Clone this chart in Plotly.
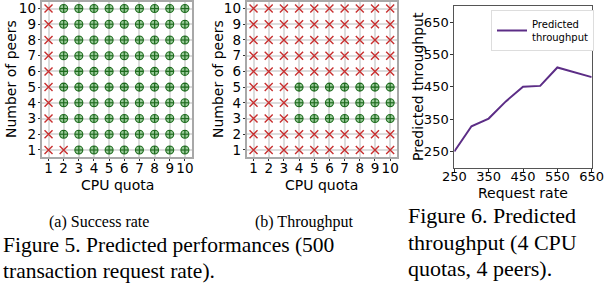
import plotly.graph_objects as go

# ---------------- data ----------------
cpu_quota = [1, 2, 3, 4, 5, 6, 7, 8, 9, 10]
num_peers = [1, 2, 3, 4, 5, 6, 7, 8, 9, 10]

# rows = number of peers (1..10), cols = CPU quota (1..10); 1 = success, 0 = fail
success_rate_ok = [
    [0, 0, 1, 1, 1, 1, 1, 1, 1, 1],  # peers 1
    [0, 1, 1, 1, 1, 1, 1, 1, 1, 1],  # peers 2
    [0, 1, 1, 1, 1, 1, 1, 1, 1, 1],  # peers 3
    [0, 1, 1, 1, 1, 1, 1, 1, 1, 1],  # peers 4
    [0, 1, 1, 1, 1, 1, 1, 1, 1, 1],  # peers 5
    [0, 1, 1, 1, 1, 1, 1, 1, 1, 1],  # peers 6
    [0, 1, 1, 1, 1, 1, 1, 1, 1, 1],  # peers 7
    [0, 1, 1, 1, 1, 1, 1, 1, 1, 1],  # peers 8
    [0, 1, 1, 1, 1, 1, 1, 1, 1, 1],  # peers 9
    [0, 1, 1, 1, 1, 1, 1, 1, 1, 1],  # peers 10
]
throughput_ok = [
    [0, 0, 0, 0, 0, 0, 0, 0, 0, 0],  # peers 1
    [0, 0, 0, 0, 0, 0, 0, 0, 0, 0],  # peers 2
    [0, 0, 0, 1, 1, 1, 1, 1, 1, 1],  # peers 3
    [0, 0, 0, 1, 1, 1, 1, 1, 1, 1],  # peers 4
    [0, 0, 0, 1, 1, 1, 1, 1, 1, 1],  # peers 5
    [0, 0, 0, 0, 0, 0, 0, 0, 0, 0],  # peers 6
    [0, 0, 0, 0, 0, 0, 0, 0, 0, 0],  # peers 7
    [0, 0, 0, 0, 0, 0, 0, 0, 0, 0],  # peers 8
    [0, 0, 0, 0, 0, 0, 0, 0, 0, 0],  # peers 9
    [0, 0, 0, 0, 0, 0, 0, 0, 0, 0],  # peers 10
]

request_rate = [250, 300, 350, 400, 450, 500, 550, 600, 650]
predicted_throughput = [250, 328, 352, 405, 450, 453, 510, 495, 480]

tp_ticks = [250, 350, 450, 550, 650]

# ---------------- styles ----------------
W, H = 604, 284
GREEN = "#228b22"
RED = "#c83030"
PURPLE = "#5c2d86"
SANS = "DejaVu Sans"
SERIF = "Liberation Serif"


def px_x(v):
    return v / W


def px_y(v):
    return 1 - v / H


def split(grid):
    ok_x, ok_y, bad_x, bad_y = [], [], [], []
    for i, row in enumerate(grid):
        for j, v in enumerate(row):
            if v:
                ok_x.append(cpu_quota[j]); ok_y.append(num_peers[i])
            else:
                bad_x.append(cpu_quota[j]); bad_y.append(num_peers[i])
    return ok_x, ok_y, bad_x, bad_y


fig = go.Figure()

for grid, xa, ya in [(success_rate_ok, "x", "y"), (throughput_ok, "x2", "y2")]:
    ok_x, ok_y, bad_x, bad_y = split(grid)
    fig.add_trace(go.Scatter(
        x=bad_x, y=bad_y, mode="markers", xaxis=xa, yaxis=ya, showlegend=False,
        marker=dict(symbol="x-thin", size=8, line=dict(color=RED, width=1.4), color=RED),
    ))
    fig.add_trace(go.Scatter(
        x=ok_x, y=ok_y, mode="markers", xaxis=xa, yaxis=ya, showlegend=False,
        marker=dict(symbol="circle-cross", size=8, color="rgba(34,139,34,0.45)",
                    line=dict(color="#1d6b1d", width=1.1)),
    ))

fig.add_trace(go.Scatter(
    x=request_rate, y=predicted_throughput, mode="lines", xaxis="x3", yaxis="y3",
    name="Predicted<br>throughput", line=dict(color=PURPLE, width=2),
))

grid_axis = dict(
    range=[0.55, 10.45], tickmode="array", tickvals=cpu_quota,
    ticktext=[str(v) for v in cpu_quota], tickangle=0,
    showgrid=True, gridcolor="#dcdcdc", gridwidth=2,
    showline=True, linecolor="#a8a8a8", linewidth=2, mirror=True,
    ticks="outside", ticklen=2, tickcolor="#333333",
    tickfont=dict(family=SANS, size=13.5, color="black"),
    zeroline=False, automargin=False, ticklabeloverflow="allow",
)
tp_axis = dict(
    tickmode="array", tickvals=tp_ticks, ticktext=[str(v) for v in tp_ticks], tickangle=0,
    showgrid=False, zeroline=False,
    showline=True, linecolor="#555555", linewidth=1, mirror=True,
    ticks="outside", ticklen=3, tickcolor="#333333",
    tickfont=dict(family=SANS, size=13, color="black"), automargin=False,
    ticklabeloverflow="allow",
)

ydom_ab = [px_y(157), px_y(1.5)]
fig.update_layout(
    width=W, height=H, margin=dict(l=0, r=0, t=0, b=0),
    paper_bgcolor="white", plot_bgcolor="white",
    xaxis=dict(grid_axis, domain=[px_x(41.7), px_x(191.7)], anchor="y", ticklabelstandoff=-4),
    yaxis=dict(grid_axis, domain=ydom_ab, anchor="x", ticklabelstandoff=-1),
    xaxis2=dict(grid_axis, domain=[px_x(246.7), px_x(397)], anchor="y2", ticklabelstandoff=-4),
    yaxis2=dict(grid_axis, domain=ydom_ab, anchor="x2", ticklabelstandoff=-1),
    xaxis3=dict(tp_axis, domain=[px_x(454.3), px_x(591.7)], anchor="y3", range=[250, 650],
                ticklabelstandoff=-6),
    yaxis3=dict(tp_axis, domain=[px_y(167.7), px_y(6)], anchor="x3", range=[200, 700],
                ticklabelstandoff=-1),
    showlegend=True,
    legend=dict(x=px_x(491), y=px_y(10), xanchor="left", yanchor="top",
                bgcolor="white", bordercolor="#dddddd", borderwidth=1,
                font=dict(family=SANS, size=10, color="black"),
                itemwidth=30, tracegroupgap=0),
)

# axis titles (placed as text annotations in paper pixels)
axis_titles = [
    ("CPU quota", 117, 184.5, 0),
    ("Number of peers", 11, 79, -90),
    ("CPU quota", 322, 184.5, 0),
    ("Number of peers", 218, 79, -90),
    ("Request rate", 523, 193, 0),
    ("Predicted throughput", 418, 87, -90),
]
for text, x, y, ang in axis_titles:
    fig.add_annotation(
        text=text, xref="paper", yref="paper", x=px_x(x), y=px_y(y),
        xanchor="center", yanchor="middle", textangle=ang, showarrow=False,
        font=dict(family=SANS, size=14, color="black"),
    )

captions = [
    ("(a) Success rate", 98.5, 222, 16),
    ("(b) Throughput", 304, 222, 16),
    ("Figure 5. Predicted performances (500", 1, 245, 21.5),
    ("transaction request rate).", 1, 271, 21.5),
    ("Figure 6. Predicted", 406, 215, 22),
    ("throughput (4 CPU", 406, 242, 22),
    ("quotas, 4 peers).", 406, 268, 22),
]
for text, x, y, size in captions:
    centered = text.startswith("(")
    fig.add_annotation(
        text=text, xref="paper", yref="paper", x=px_x(x), y=px_y(y),
        xanchor="center" if centered else "left", yanchor="middle",
        showarrow=False, font=dict(family=SERIF, size=size, color="black"),
    )

fig.write_html(
    "out.html",
    config={"displayModeBar": False},
    post_script="document.body.style.margin='0';document.body.style.overflow='hidden';",
)
